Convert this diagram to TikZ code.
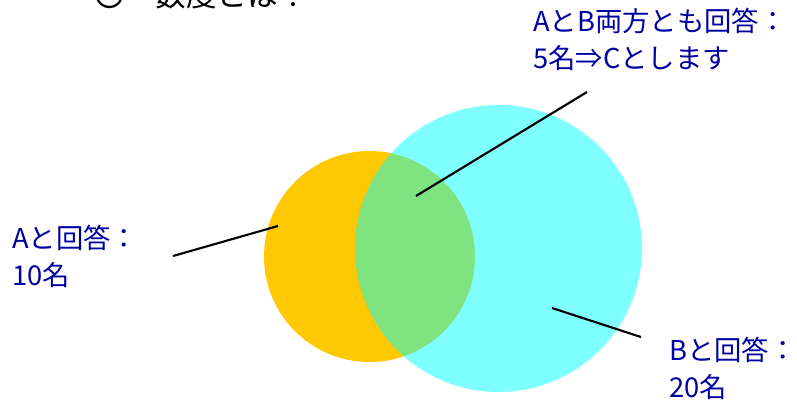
\documentclass[tikz,border=0pt]{standalone}
\usepackage{fontspec}
\setmainfont{Noto Sans CJK JP}
\definecolor{labelblue}{RGB}{0,0,160}
\definecolor{setA}{RGB}{255,200,0}
\definecolor{setB}{RGB}{0,255,255}
\begin{document}
\begin{tikzpicture}[x=0.75pt,y=-0.75pt,
  lbl/.style={text=labelblue,font=\fontsize{20.5}{28}\selectfont,align=left,inner sep=0pt,anchor=north west},
  leader/.style={draw=black,line width=1.6pt}]
\useasboundingbox (0,0) rectangle (797,405);
\clip (0,0) rectangle (797,405);
% partially visible heading
\node[anchor=base west,inner sep=0pt,font=\fontsize{23}{26}\selectfont] (title) at (94,6) {〇　数度とは？};
% circles
\fill[setA] (369.5,256.5) circle[radius=105.5];
\fill[setB,fill opacity=0.5] (498.5,248.5) circle[radius=143.5];
% anchor coordinates
\coordinate (a1) at (173,256);
\coordinate (a2) at (278,226);
\coordinate (c1) at (416,196);
\coordinate (c2) at (587,92);
\coordinate (b1) at (552,308);
\coordinate (b2) at (641,337);
\draw[leader] (a1) -- (a2);
\draw[leader] (c1) -- (c2);
\draw[leader] (b1) -- (b2);
% labels
\node[lbl] (la) at (12,225) {Aと回答：\\10名};
\node[lbl] (lc) at (533,8) {AとB両方とも回答：\\5名⇒Cとします};
\node[lbl] (lb) at (669,337) {Bと回答：\\20名};
\end{tikzpicture}
\end{document}
